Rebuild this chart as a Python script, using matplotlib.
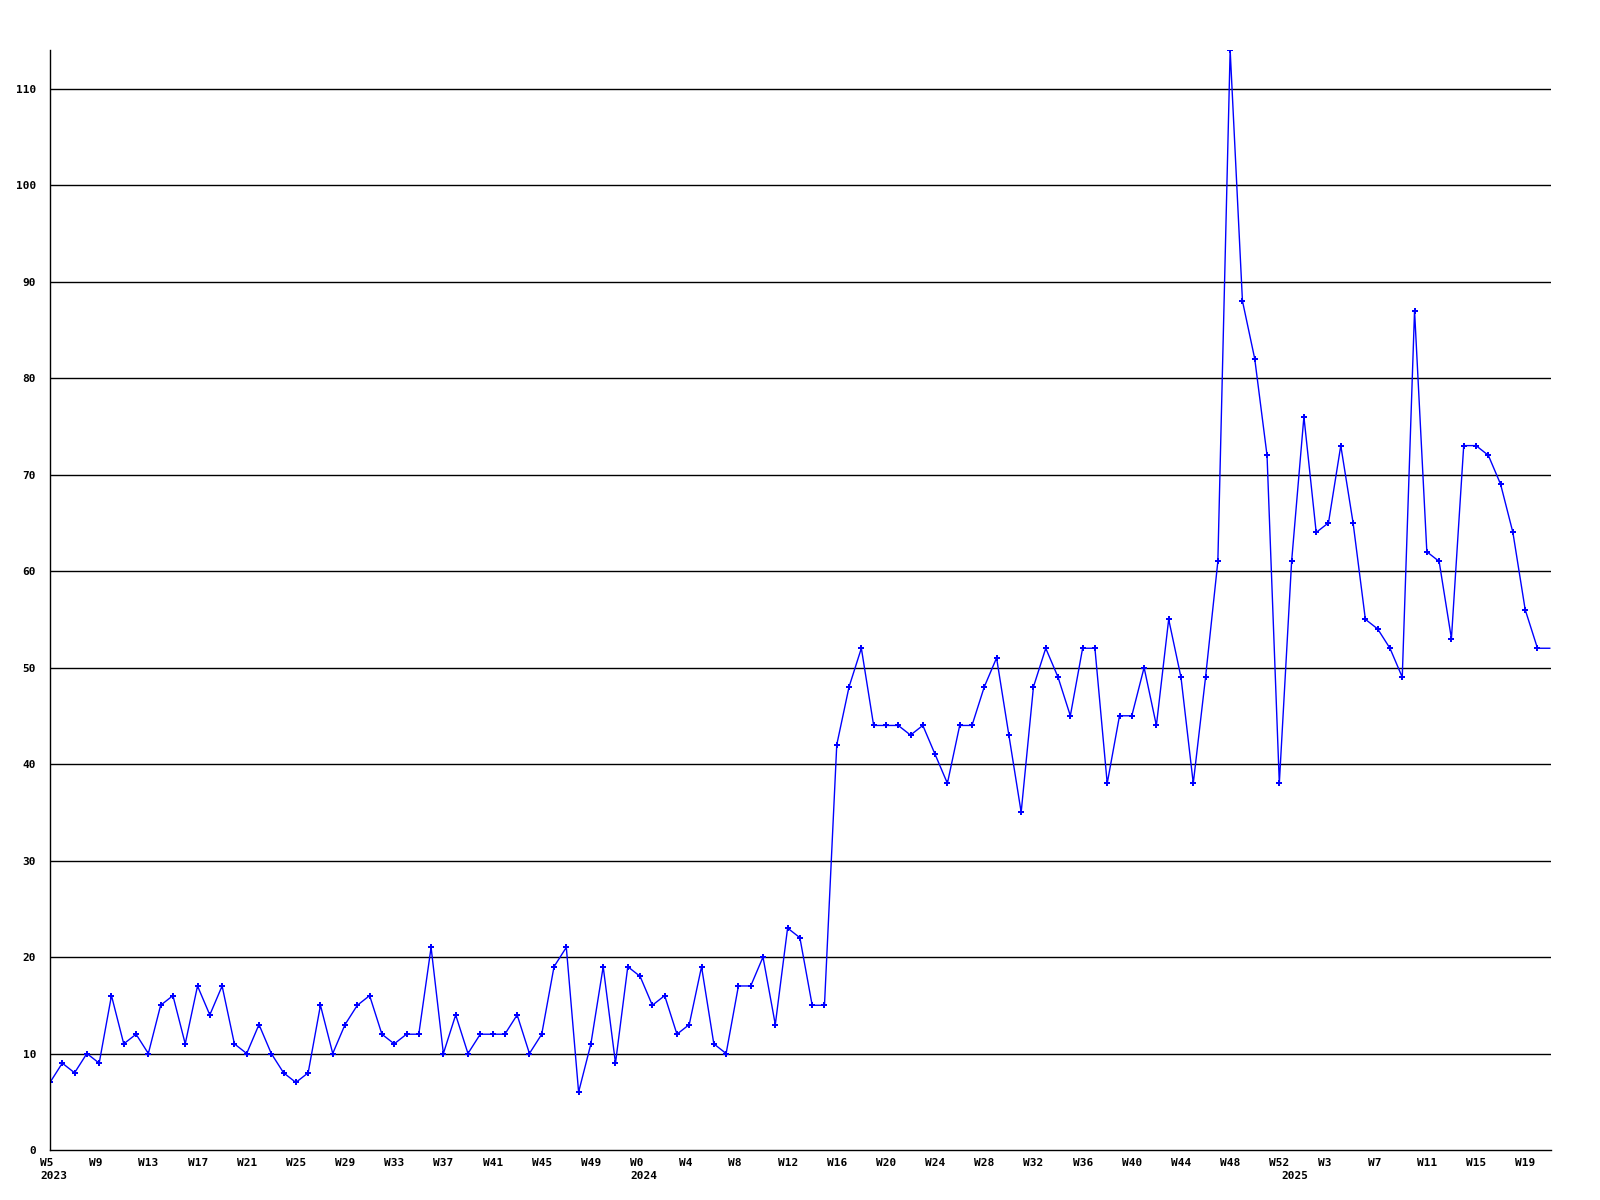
import matplotlib
matplotlib.use('Agg')
from matplotlib import pyplot as plt
from matplotlib import transforms
import numpy as np

# weekly counts, 2023 W5 .. 2025 W21
values = [7, 9, 8, 10, 9, 16, 11, 12, 10, 15, 16, 11, 17, 14, 17, 11, 10, 13, 10, 8,
          7, 8, 15, 10, 13, 15, 16, 12, 11, 12, 12, 21, 10, 14, 10, 12, 12, 12, 14, 10,
          12, 19, 21, 6, 11, 19, 9, 19, 18, 15, 16, 12, 13, 19, 11, 10, 17, 17, 20, 13,
          23, 22, 15, 15, 42, 48, 52, 44, 44, 44, 43, 44, 41, 38, 44, 44, 48, 51, 43, 35,
          48, 52, 49, 45, 52, 52, 38, 45, 45, 50, 44, 55, 49, 38, 49, 61, 114, 88, 82, 72,
          38, 61, 76, 64, 65, 73, 65, 55, 54, 52, 49, 87, 62, 61, 53, 73, 73, 72, 69, 64,
          56, 52, 52]
weeks = ([('2023', w) for w in range(5, 53)] + [('2024', w) for w in range(0, 53)]
         + [('2025', w) for w in range(0, 22)])
year_starts = {0: '2023', 48: '2024', 101: '2025'}
yticks = list(range(0, 120, 10))

FONT = dict(family='DejaVu Sans Mono', fontweight='bold', fontsize=8)

fig = plt.figure(figsize=(16, 12), dpi=100)
ax = fig.add_axes([50 / 1600, 50 / 1200, 1501 / 1600, 1100 / 1200])

x = np.arange(len(values))
ax.plot(x, values, color='#0000ff', lw=1.0, marker='P', markersize=4,
        markeredgewidth=0, markevery=list(range(len(values) - 1)))

ax.set_xlim(0, len(values) - 1 + 0.1)
ax.set_ylim(0, max(values))
for v in yticks[1:]:
    ax.axhline(v, color='black', lw=1.0, zorder=0)

for s in ['top', 'right']:
    ax.spines[s].set_visible(False)
for s in ['left', 'bottom']:
    ax.spines[s].set_linewidth(1.0)

ax.tick_params(length=0)
ax.set_yticks(yticks)
ax.set_yticklabels([str(v) for v in yticks], **FONT)
ax.tick_params(axis='y', pad=10)

tick_idx = list(range(0, len(values) - 1, 4))
ax.set_xticks(tick_idx)
ax.set_xticklabels(['W%d' % weeks[i][1] for i in tick_idx], **FONT)
ax.tick_params(axis='x', pad=6)
shift = transforms.ScaledTranslation(-10 / 100, 0, fig.dpi_scale_trans)
for lab in ax.get_xticklabels():
    lab.set_ha('left')
    lab.set_transform(lab.get_transform() + shift)

trans = transforms.blended_transform_factory(ax.transData, ax.transAxes)
for i, yr in year_starts.items():
    ax.text(i, -21 / 1100, yr, transform=trans + shift, ha='left', va='top', **FONT)

fig.savefig('out.png', dpi=100, facecolor='white')
